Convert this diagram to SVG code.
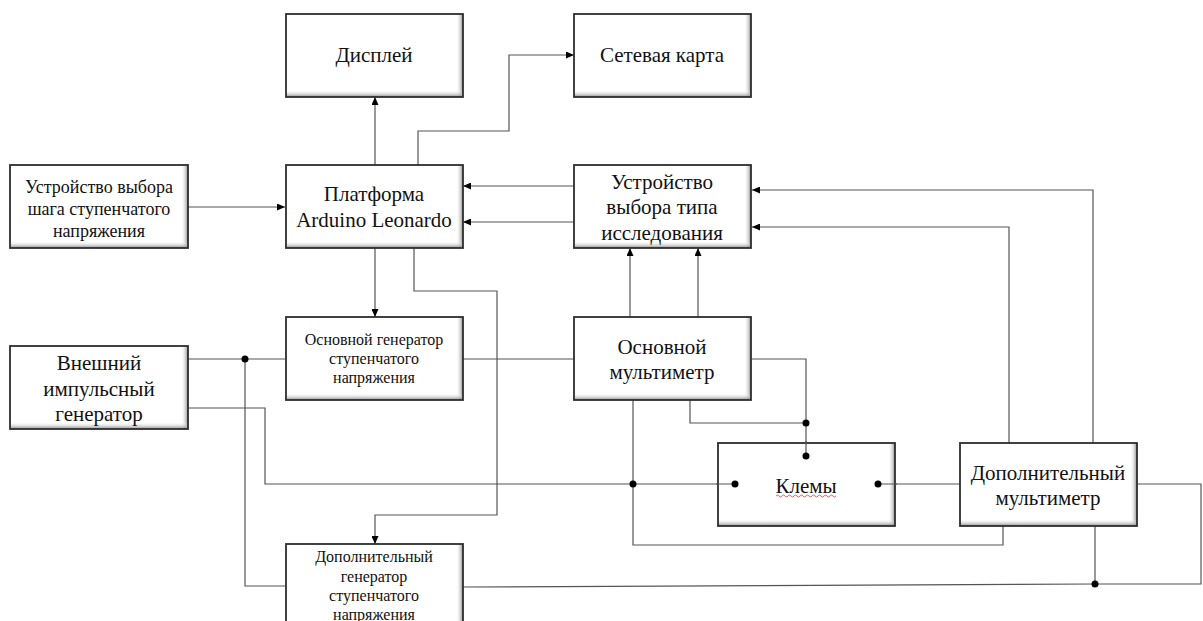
<svg xmlns="http://www.w3.org/2000/svg" width="1203" height="621" viewBox="0 0 1203 621">
<style>
.bx{fill:none;stroke:#2e2e2e;stroke-width:1.8}
.bg{fill:#fff}
.t{font-family:"Liberation Serif","Times New Roman",serif;font-size:21px;fill:#111;text-anchor:middle}
.s{font-size:18px}
.xs{font-size:16px}
.c{fill:none;stroke:#555;stroke-width:1.2}
.a{marker-end:url(#ar)}
.d{fill:#000}
</style>
<defs>
<marker id="ar" markerWidth="8" markerHeight="7" refX="8" refY="3.5" orient="auto" markerUnits="userSpaceOnUse"><path d="M0,0 L8,3.5 L0,7 z" fill="#000"/></marker>
<linearGradient id="gr" x1="0" y1="0" x2="1" y2="0"><stop offset="0" stop-color="#fff" stop-opacity="0"/><stop offset="1" stop-color="#8a8a8a"/></linearGradient>
<linearGradient id="gb" x1="0" y1="0" x2="0" y2="1"><stop offset="0" stop-color="#fff" stop-opacity="0"/><stop offset="1" stop-color="#8a8a8a"/></linearGradient>
</defs>

<g id="connectors">
<path class="c a" d="M375,165 V97"/>
<path class="c a" d="M418,165 V131 H509 V55 H574"/>
<path class="c a" d="M188,207 H285"/>
<path class="c a" d="M574,186 H463"/>
<path class="c a" d="M574,222 H463"/>
<path class="c a" d="M375,248 V317"/>
<path class="c a" d="M414,248 V291 H497 V515 H375 V544"/>
<path class="c" d="M188,359 H285"/>
<path class="c" d="M245,359 V586 H285"/>
<path class="c" d="M463,359 H574"/>
<path class="c" d="M188,408 H265 V484 H735"/>
<path class="c a" d="M630,317 V248"/>
<path class="c a" d="M698,317 V248"/>
<path class="c" d="M752,359 H806 V456"/>
<path class="c" d="M690,400 V423 H806"/>
<path class="c" d="M633,400 V545 H1003 V526"/>
<path class="c" d="M878,484 H960"/>
<path class="c a" d="M1009,443 V227 H752"/>
<path class="c a" d="M1093,443 V190 H752"/>
<path class="c" d="M1137,484 H1201 V584 H1095"/>
<path class="c" d="M1095,526 V584"/>
<path class="c" d="M1095,584 L463,587"/>
<circle class="d" cx="245" cy="359" r="3.5"/>
<circle class="d" cx="633" cy="484" r="3.5"/>
<circle class="d" cx="806" cy="423" r="3.5"/>
<circle class="d" cx="1095" cy="584" r="3.5"/>
</g>

<g id="display">
<rect class="bg" x="286" y="14" width="177" height="83"/>
<rect x="456" y="14" width="7" height="83" fill="url(#gr)"/>
<rect x="286" y="90" width="177" height="7" fill="url(#gb)"/>
<rect class="bx" x="286" y="14" width="177" height="83"/>
<text class="t" x="374" y="62">Дисплей</text>
</g>

<g id="netcard">
<rect class="bg" x="574" y="14" width="177" height="83"/>
<rect x="744" y="14" width="7" height="83" fill="url(#gr)"/>
<rect x="574" y="90" width="177" height="7" fill="url(#gb)"/>
<rect class="bx" x="574" y="14" width="177" height="83"/>
<text class="t" x="662" y="62">Сетевая карта</text>
</g>

<g id="step-select">
<rect class="bg" x="10" y="165" width="178" height="83"/>
<rect x="181" y="165" width="7" height="83" fill="url(#gr)"/>
<rect x="10" y="241" width="178" height="7" fill="url(#gb)"/>
<rect class="bx" x="10" y="165" width="178" height="83"/>
<text class="t s" x="99" y="193">Устройство выбора</text>
<text class="t s" x="99" y="215">шага ступенчатого</text>
<text class="t s" x="99" y="237">напряжения</text>
</g>

<g id="arduino">
<rect class="bg" x="286" y="165" width="177" height="83"/>
<rect x="456" y="165" width="7" height="83" fill="url(#gr)"/>
<rect x="286" y="241" width="177" height="7" fill="url(#gb)"/>
<rect class="bx" x="286" y="165" width="177" height="83"/>
<text class="t" x="374" y="201">Платформа</text>
<text class="t" x="374" y="227">Arduino Leonardo</text>
</g>

<g id="type-select">
<rect class="bg" x="574" y="165" width="177" height="83"/>
<rect x="744" y="165" width="7" height="83" fill="url(#gr)"/>
<rect x="574" y="241" width="177" height="7" fill="url(#gb)"/>
<rect class="bx" x="574" y="165" width="177" height="83"/>
<text class="t" x="662" y="189">Устройство</text>
<text class="t" x="662" y="214">выбора типа</text>
<text class="t" x="662" y="240">исследования</text>
</g>

<g id="main-gen">
<rect class="bg" x="286" y="317" width="177" height="83"/>
<rect x="456" y="317" width="7" height="83" fill="url(#gr)"/>
<rect x="286" y="393" width="177" height="7" fill="url(#gb)"/>
<rect class="bx" x="286" y="317" width="177" height="83"/>
<text class="t xs" x="374" y="345">Основной генератор</text>
<text class="t xs" x="374" y="364">ступенчатого</text>
<text class="t xs" x="374" y="383">напряжения</text>
</g>

<g id="ext-gen">
<rect class="bg" x="10" y="346" width="178" height="83"/>
<rect x="181" y="346" width="7" height="83" fill="url(#gr)"/>
<rect x="10" y="422" width="178" height="7" fill="url(#gb)"/>
<rect class="bx" x="10" y="346" width="178" height="83"/>
<text class="t" x="99" y="370">Внешний</text>
<text class="t" x="99" y="396">импульсный</text>
<text class="t" x="99" y="421">генератор</text>
</g>

<g id="main-meter">
<rect class="bg" x="574" y="317" width="177" height="83"/>
<rect x="744" y="317" width="7" height="83" fill="url(#gr)"/>
<rect x="574" y="393" width="177" height="7" fill="url(#gb)"/>
<rect class="bx" x="574" y="317" width="177" height="83"/>
<text class="t" x="662" y="354">Основной</text>
<text class="t" x="662" y="379">мультиметр</text>
</g>

<g id="terminals">
<rect class="bg" x="718" y="443" width="177" height="83"/>
<rect x="888" y="443" width="7" height="83" fill="url(#gr)"/>
<rect x="718" y="519" width="177" height="7" fill="url(#gb)"/>
<rect class="bx" x="718" y="443" width="177" height="83"/>
<path class="c" d="M716,484 H735 M878,484 H897 M806,441 V456"/>
<circle class="d" cx="735" cy="484" r="3.5"/>
<circle class="d" cx="806" cy="456" r="3.5"/>
<circle class="d" cx="878" cy="484" r="3.5"/>
<text class="t" x="806" y="493">Клемы</text>
<path d="M776,496 q1.5,-2 3,0 t3,0 t3,0 t3,0 t3,0 t3,0 t3,0 t3,0 t3,0 t3,0 t3,0 t3,0 t3,0 t3,0 t3,0 t3,0 t3,0 t3,0 t3,0 t3,0" fill="none" stroke="#e03030" stroke-width="0.8"/>
</g>

<g id="aux-meter">
<rect class="bg" x="960" y="443" width="177" height="83"/>
<rect x="1130" y="443" width="7" height="83" fill="url(#gr)"/>
<rect x="960" y="519" width="177" height="7" fill="url(#gb)"/>
<rect class="bx" x="960" y="443" width="177" height="83"/>
<text class="t" x="1048" y="480">Дополнительный</text>
<text class="t" x="1048" y="505">мультиметр</text>
</g>

<g id="aux-gen">
<rect class="bg" x="286" y="544" width="177" height="90"/>
<rect x="456" y="544" width="7" height="90" fill="url(#gr)"/>
<rect class="bx" x="286" y="544" width="177" height="90"/>
<text class="t xs" x="374" y="562">Дополнительный</text>
<text class="t xs" x="374" y="582">генератор</text>
<text class="t xs" x="374" y="601">ступенчатого</text>
<text class="t xs" x="374" y="620">напряжения</text>
</g>
</svg>
